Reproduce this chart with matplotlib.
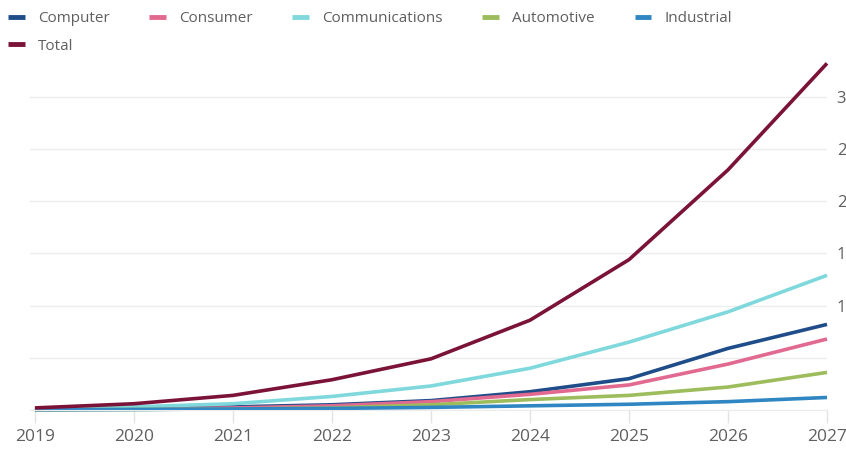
import matplotlib
matplotlib.use("Agg")
import matplotlib.pyplot as plt

years = [2019, 2020, 2021, 2022, 2023, 2024, 2025, 2026, 2027]
series_names = ["Computer", "Consumer", "Communications", "Automotive", "Industrial", "Total"]
computer = [0.1, 0.2, 0.3, 0.5, 0.9, 1.75, 3.0, 5.9, 8.2]
consumer = [0.05, 0.1, 0.2, 0.4, 0.8, 1.5, 2.4, 4.4, 6.8]
communications = [0.1, 0.3, 0.6, 1.3, 2.3, 4.0, 6.5, 9.4, 12.9]
automotive = [0.02, 0.05, 0.1, 0.2, 0.5, 1.0, 1.4, 2.2, 3.6]
industrial = [0.02, 0.05, 0.1, 0.15, 0.25, 0.4, 0.55, 0.8, 1.2]
total = [0.2, 0.6, 1.4, 2.9, 4.9, 8.6, 14.4, 23.0, 33.2]
ytick_values = [0, 5, 10, 15, 20, 25, 30]
ytick_labels = ["", "", "1", "1", "2", "2", "3"]

colors = ["#1f4d89", "#e2698f", "#7fd8dc", "#9dbd5c", "#2f86c2", "#7b1339"]
data = [computer, consumer, communications, automotive, industrial, total]

plt.rcParams['font.family'] = ['Open Sans', 'DejaVu Sans']

fig = plt.figure(figsize=(8.46, 4.49), dpi=100)
ax = fig.add_axes([30/846, 39/449, 797/846, 355/449])

lines = {}
for name, vals, c in zip(series_names, data, colors):
    lines[name], = ax.plot(years, vals, color=c, lw=2.6, label=name,
                           solid_capstyle='butt', clip_on=False)

ax.set_xlim(2018.95, 2027)
ax.set_ylim(0, 34)
ax.set_yticks(ytick_values)
ax.set_yticklabels(ytick_labels)
ax.yaxis.tick_right()
ax.tick_params(axis='y', length=0, pad=7, labelsize=12, labelcolor='#5f5f5f')
ax.set_xticks(years)
ax.set_xticklabels([str(y) for y in years])
ax.tick_params(axis='x', length=9, width=1, color='#e3e3e3', pad=5, labelsize=12.5, labelcolor='#5f5f5f')
ax.grid(axis='y', color='#ececec', lw=1)
ax.set_axisbelow(True)
for s in ['top', 'right', 'left']:
    ax.spines[s].set_visible(False)
ax.spines['bottom'].set_color('#ececec')

order = ["Computer", "Total", "Consumer", "Communications", "Automotive", "Industrial"]
leg = fig.legend([lines[n] for n in order], order, loc='upper left',
                 bbox_to_anchor=(-0.004, 1.0), ncol=5, frameon=False,
                 fontsize=11, handlelength=1.1, handletextpad=0.85, columnspacing=2.6,
                 labelspacing=0.8, borderaxespad=0.35)
for t in leg.get_texts():
    t.set_color('#5f5f5f')
for h in leg.get_lines():
    h.set_linewidth(3.5)

fig.savefig("out.png", dpi=100)
